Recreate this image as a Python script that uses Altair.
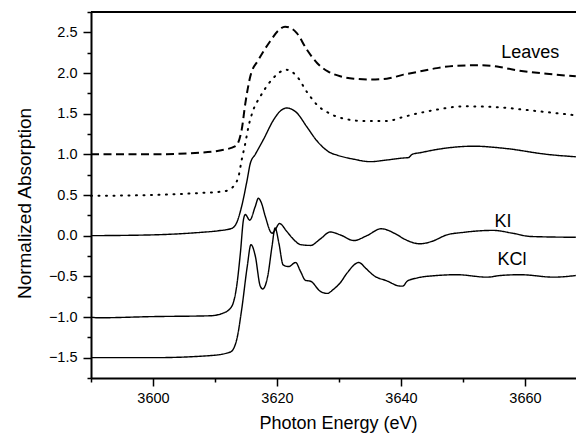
import altair as alt
import pandas as pd

# ---- data ----
leaves_dash_e = [3590, 3600, 3607.6, 3611, 3613.3, 3614.3, 3614.9, 3615.7, 3617.0, 3618.9, 3620.2, 3621.3, 3622.3,
                 3623.2, 3624.8, 3626.5, 3628.2, 3630.2, 3632.4, 3635.0, 3637.7, 3640.4, 3643.1, 3645.8, 3649.0,
                 3652.8, 3655.5, 3658.2, 3663.5, 3668.2]
leaves_dash_v = [1.0, 1.0, 1.02, 1.05, 1.10, 1.30, 1.63, 1.96, 2.16, 2.39, 2.52, 2.57, 2.55,
                 2.49, 2.29, 2.12, 2.02, 1.96, 1.93, 1.92, 1.93, 1.98, 2.02, 2.06, 2.09,
                 2.095, 2.08, 2.04, 1.99, 1.96]

dot_e = [3590, 3600, 3607.6, 3611.4, 3612.7, 3613.8, 3614.3, 3614.9, 3615.4, 3616.2, 3617.3, 3619.2, 3621.5,
         3623.2, 3624.8, 3626.7, 3628.3, 3630.2, 3634.0, 3637.7, 3640.4, 3643.1, 3645.8, 3650.1, 3655.5,
         3660.9, 3668.2]
dot_v = [0.49, 0.50, 0.525, 0.545, 0.585, 0.73, 0.93, 1.14, 1.34, 1.55, 1.71, 1.92, 2.04,
         1.96, 1.77, 1.59, 1.51, 1.45, 1.41, 1.41, 1.46, 1.51, 1.55, 1.59, 1.58,
         1.54, 1.48]

solid_e = [3590, 3600, 3607.6, 3610.5, 3612.7, 3613.5, 3614.3, 3615.2, 3615.7, 3616.5, 3617.8, 3619.5, 3620.5,
           3621.6, 3622.5, 3623.2, 3624.8, 3626.5, 3628.6, 3629.7, 3632.4, 3635.0, 3637.7, 3640.4, 3641.2,
           3641.8, 3643.1, 3645.8, 3651.7, 3657.1, 3663.5, 3668.2]
solid_v = [0.0, 0.01, 0.04, 0.06, 0.09, 0.16, 0.36, 0.69, 0.89, 1.0, 1.18, 1.43, 1.53,
           1.57, 1.55, 1.51, 1.34, 1.16, 1.02, 0.99, 0.94, 0.91, 0.93, 0.955, 0.96,
           1.0, 1.02, 1.06, 1.10, 1.07, 1.0, 0.97]

ki_e = [3590, 3591, 3600, 3609.2, 3611.4, 3612.7, 3613.5, 3614.1, 3614.6, 3614.9, 3615.6, 3616.5, 3617.0,
        3617.5, 3618.1, 3619.2, 3619.7, 3620.4, 3621.6, 3622.6, 3623.8, 3625.4, 3627.0, 3628.6, 3630.2,
        3632.4, 3634.5, 3636.8, 3639.4, 3640.5, 3643.1, 3645.0, 3647.4, 3650.0, 3654.9, 3658.0, 3660.9, 3668.2]
ki_v = [-1.0, -1.01, -0.995, -0.985, -0.95, -0.87, -0.62, -0.21, 0.20, 0.26, 0.19, 0.36, 0.46,
        0.40, 0.24, 0.03, 0.07, 0.15, 0.05, -0.04, -0.11, -0.12, -0.04, 0.045, 0.01,
        -0.06, 0.0, 0.085, 0.01, -0.04, -0.10, -0.07, 0.01, 0.04, 0.065, 0.03, -0.01, -0.02]

kcl_e = [3590, 3600, 3609.2, 3612.5, 3613.5, 3614.3, 3615.2, 3615.8, 3616.5, 3617.3, 3617.7, 3618.5, 3619.2,
         3619.7, 3620.3, 3621.0, 3621.9, 3623.0, 3623.8, 3624.6, 3625.4, 3627.0, 3628.1, 3629.1, 3630.2,
         3631.3, 3633.2, 3634.3, 3635.6, 3637.7, 3639.9, 3640.3, 3641.0, 3642.6, 3645.8, 3649.0, 3653.9,
         3656.0, 3659.3, 3664.6, 3668.2]
kcl_v = [-1.5, -1.5, -1.475, -1.43, -1.28, -0.91, -0.38, -0.11, -0.25, -0.62, -0.655, -0.50, -0.13,
         0.095, -0.09, -0.36, -0.38, -0.33, -0.44, -0.55, -0.56, -0.685, -0.71, -0.66, -0.58,
         -0.46, -0.33, -0.40, -0.49, -0.555, -0.62, -0.62, -0.56, -0.52, -0.49, -0.48, -0.51,
         -0.49, -0.48, -0.51, -0.49]

label_text = ["Leaves", "KI", "KCl"]
label_e = [3660.85, 3656.45, 3657.9]
label_v = [2.25, 0.164, -0.295]

x_major = [3600, 3620, 3640, 3660]
x_minor = [3590, 3610, 3630, 3650]
y_major = [-1.5, -1.0, -0.5, 0.0, 0.5, 1.0, 1.5, 2.0, 2.5]
y_minor = [-1.75, -1.25, -0.75, -0.25, 0.25, 0.75, 1.25, 1.75, 2.25, 2.75]

FONT = "Liberation Sans"
xs = alt.Scale(domain=[3590, 3668.23], nice=False, zero=False)
ys = alt.Scale(domain=[-1.75, 2.75], nice=False, zero=False)


def curve(e, v, dash, width):
    df = pd.DataFrame({"E": e, "A": v})
    return alt.Chart(df).mark_line(color="black", strokeWidth=width, strokeDash=dash,
                                   interpolate="monotone", strokeCap="butt").encode(
        x=alt.X("E:Q", scale=xs, axis=None),
        y=alt.Y("A:Q", scale=ys, axis=None),
    )


dashed = curve(leaves_dash_e, leaves_dash_v, [8, 4.5], 2)
dotted = alt.Chart(pd.DataFrame({"E": dot_e, "A": dot_v})).mark_line(
    color="black", strokeWidth=2, strokeDash=[1, 6.5], strokeCap="round", interpolate="monotone").encode(
    x=alt.X("E:Q", scale=xs, axis=None),
    y=alt.Y("A:Q", scale=ys, axis=None),
)
solid = curve(solid_e, solid_v, [1, 0], 1.4)
ki = curve(ki_e, ki_v, [1, 0], 1.4)
kcl = curve(kcl_e, kcl_v, [1, 0], 1.4)

labels = alt.Chart(pd.DataFrame({"E": label_e, "A": label_v, "t": label_text})).mark_text(
    font=FONT, fontSize=18, fontWeight=500, color="black", align="center", baseline="middle").encode(
    x=alt.X("E:Q", scale=xs, axis=None),
    y=alt.Y("A:Q", scale=ys, axis=None),
    text="t:N",
)

top_border = alt.Chart(pd.DataFrame({"a": [0]})).mark_rule(color="black", strokeWidth=2).encode(
    y=alt.value(0)
)

axis_common = dict(domainColor="black", tickColor="black", labelColor="black", titleColor="black",
                   labelFont=FONT, titleFont=FONT, grid=False)

major = alt.Chart(pd.DataFrame({"E": [3600], "A": [0.0]})).mark_point(opacity=0).encode(
    x=alt.X("E:Q", scale=xs, axis=alt.Axis(orient="bottom", values=x_major, format="d", tickSize=8,
                                           tickWidth=1.5, domainWidth=2, labelFontSize=14.5, labelPadding=5,
                                           labelFontWeight="normal",
                                           title="Photon Energy (eV)", titleFontSize=18, titlePadding=10,
                                           titleX=247, titleFontWeight="normal", **axis_common)),
    y=alt.Y("A:Q", scale=ys, axis=alt.Axis(orient="left", values=y_major, format=".1f", tickSize=8,
                                           tickWidth=1.5, domainWidth=2, labelFontSize=14.5, labelPadding=6,
                                           labelFontWeight="normal",
                                           title="Normalized Absorption", titleFontSize=19, titlePadding=14,
                                           titleY=191, titleFontWeight="normal", **axis_common)),
)

minor = alt.Chart(pd.DataFrame({"E": [3600], "A": [0.0]})).mark_point(opacity=0).encode(
    x=alt.X("E:Q", scale=xs, axis=alt.Axis(orient="bottom", values=x_minor, tickSize=4, tickWidth=1.5,
                                           labels=False, domain=False, title="", **axis_common)),
    y=alt.Y("A:Q", scale=ys, axis=alt.Axis(orient="left", values=y_minor, tickSize=4, tickWidth=1.5,
                                           labels=False, domain=False, title="", **axis_common)),
)

chart = alt.layer(major, minor, dashed, dotted, solid, ki, kcl, labels, top_border).resolve_scale(
    x="shared", y="shared").resolve_axis(x="independent", y="independent").properties(
    width=485, height=366, autosize=alt.AutoSizeParams(type="none"),
    padding={"left": 83, "top": 4, "right": 0, "bottom": 60},
).configure_view(strokeWidth=0).configure(background="white")

chart.save("out.html", embed_options={"renderer": "svg", "actions": False})
